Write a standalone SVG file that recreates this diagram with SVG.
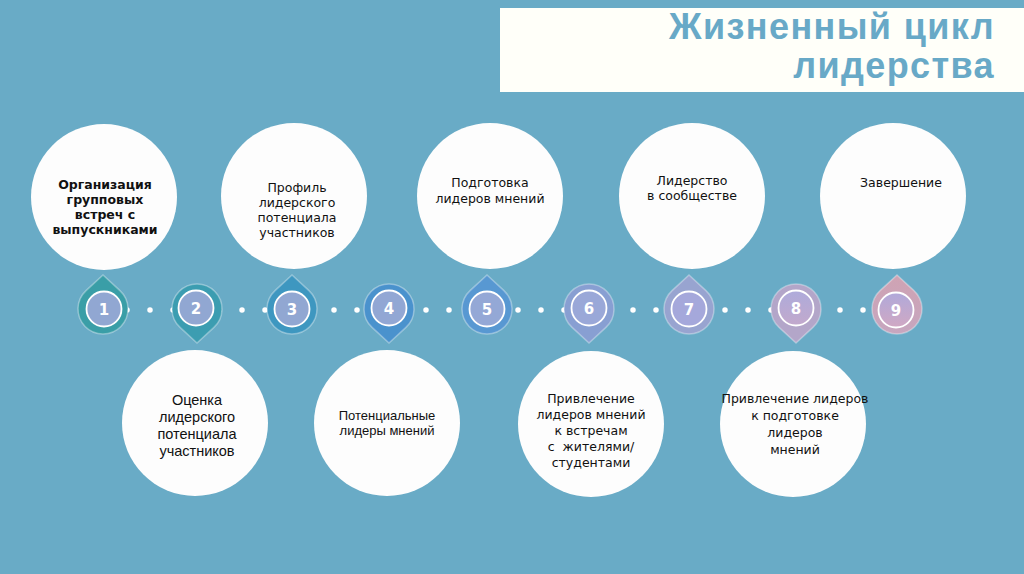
<svg xmlns="http://www.w3.org/2000/svg" width="1024" height="574" viewBox="0 0 1024 574">
<style>
.bg{fill:#69abc6}
.node{fill:#fdfdfd}
.title{font-family:"Liberation Sans",Arial,sans-serif;font-weight:bold;font-style:normal;font-size:36px;letter-spacing:1.4px;fill:#68a9c7;text-anchor:end}
.tv{font-family:"DejaVu Sans",Verdana,sans-serif;font-size:12.5px;fill:#111;text-anchor:middle}
.tb{font-weight:bold}
.ta{font-family:"Liberation Sans",Arial,sans-serif;fill:#111;text-anchor:middle}
.num{font-family:"DejaVu Sans",Verdana,sans-serif;font-weight:bold;font-size:15px;fill:#fff;text-anchor:middle}
.inner{stroke:#fff;stroke-width:1.8}
.drop{stroke:#ffffff;stroke-opacity:0.35;stroke-width:1.5}
.pre{white-space:pre}
</style>
<defs>
<path id="dropUp" d="M0,-34 L16.95,-18.4 A25,25 0 1,1 -16.95,-18.4 Z"/>
<linearGradient id="g8" x1="0" y1="0" x2="0" y2="1"><stop offset="0" stop-color="#aeabdb"/><stop offset="1" stop-color="#c2a9cc"/></linearGradient>
<linearGradient id="g9" x1="0" y1="0" x2="0" y2="1"><stop offset="0" stop-color="#b0a9da"/><stop offset="1" stop-color="#d0a8c3"/></linearGradient>
<linearGradient id="d9" x1="0" y1="0" x2="0" y2="1"><stop offset="0" stop-color="#cfa3b3"/><stop offset="1" stop-color="#c6a6bf"/></linearGradient>
</defs>
<rect class="bg" x="0" y="0" width="1024" height="574"/>
<g id="title">
<rect x="500" y="8" width="524" height="84" fill="#fffff9"/>
<text class="title" x="995" y="39">Жизненный цикл</text>
<text class="title" x="995" y="78">лидерства</text>
</g>
<g id="connectors">
<line x1="127" y1="310" x2="864" y2="310" stroke="#fff" stroke-width="5.5" stroke-linecap="round" stroke-dasharray="0 23"/>
</g>
<g id="node-t1"><circle class="node" cx="104" cy="197" r="73"/>
<text class="tv tb"><tspan x="105" y="189">Организация</tspan><tspan x="105" y="204">групповых</tspan><tspan x="105" y="219">встреч с</tspan><tspan x="105" y="234">выпускниками</tspan></text></g>
<g id="node-t2"><circle class="node" cx="294" cy="196" r="73"/>
<text class="tv"><tspan x="297" y="192">Профиль</tspan><tspan x="297" y="207">лидерского</tspan><tspan x="297" y="222">потенциала</tspan><tspan x="297" y="237">участников</tspan></text></g>
<g id="node-t3"><circle class="node" cx="490" cy="196" r="73"/>
<text class="tv"><tspan x="490" y="187">Подготовка</tspan><tspan x="490" y="203">лидеров мнений</tspan></text></g>
<g id="node-t4"><circle class="node" cx="692" cy="196" r="73"/>
<text class="tv"><tspan x="692" y="185">Лидерство</tspan><tspan x="692" y="200">в сообществе</tspan></text></g>
<g id="node-t5"><circle class="node" cx="893" cy="196" r="73"/>
<text class="tv"><tspan x="901" y="187">Завершение</tspan></text></g>
<g id="node-b1"><circle class="node" cx="195" cy="423" r="73"/>
<text class="ta" font-size="14.5"><tspan x="197" y="405">Оценка</tspan><tspan x="197" y="422">лидерского</tspan><tspan x="197" y="439">потенциала</tspan><tspan x="197" y="456">участников</tspan></text></g>
<g id="node-b2"><circle class="node" cx="387" cy="423" r="73"/>
<text class="ta" font-size="13"><tspan x="387" y="420">Потенциальные</tspan><tspan x="387" y="435">лидеры мнений</tspan></text></g>
<g id="node-b3"><circle class="node" cx="591" cy="424" r="73"/>
<text class="tv pre" font-size="13"><tspan x="591" y="403">Привлечение</tspan><tspan x="591" y="419">лидеров мнений</tspan><tspan x="591" y="435">к встречам</tspan><tspan x="591" y="451">с  жителями/</tspan><tspan x="591" y="467">студентами</tspan></text></g>
<g id="node-b4"><circle class="node" cx="793" cy="424" r="73"/>
<text class="tv" font-size="13"><tspan x="795" y="403">Привлечение лидеров</tspan><tspan x="795" y="420">к подготовке</tspan><tspan x="795" y="437">лидеров</tspan><tspan x="795" y="454">мнений</tspan></text></g>
<g id="marker-1"><use href="#dropUp" transform="translate(103,309)" fill="#3a9ea7" class="drop"/><circle class="inner" cx="104" cy="309" r="17.5" fill="#91a7d2"/><text class="num" x="104" y="315">1</text></g>
<g id="marker-2"><use href="#dropUp" transform="translate(197,309) rotate(180)" fill="#3c9db1" class="drop"/><circle class="inner" cx="196" cy="308" r="17.5" fill="#91a7d2"/><text class="num" x="196" y="314">2</text></g>
<g id="marker-3"><use href="#dropUp" transform="translate(292,309)" fill="#3e97c0" class="drop"/><circle class="inner" cx="292" cy="309" r="17.5" fill="#91a7d2"/><text class="num" x="292" y="315">3</text></g>
<g id="marker-4"><use href="#dropUp" transform="translate(389,309) rotate(180)" fill="#4a92cd" class="drop"/><circle class="inner" cx="389" cy="308" r="17.5" fill="#92a7d4"/><text class="num" x="389" y="314">4</text></g>
<g id="marker-5"><use href="#dropUp" transform="translate(487,309)" fill="#5898d2" class="drop"/><circle class="inner" cx="487" cy="309" r="17.5" fill="#94a8d6"/><text class="num" x="487" y="315">5</text></g>
<g id="marker-6"><use href="#dropUp" transform="translate(589,309) rotate(180)" fill="#889fd2" class="drop"/><circle class="inner" cx="589" cy="308" r="17.5" fill="#9aa8d8"/><text class="num" x="589" y="314">6</text></g>
<g id="marker-7"><use href="#dropUp" transform="translate(689,309)" fill="#98a4d0" class="drop"/><circle class="inner" cx="689" cy="309" r="17.5" fill="#a5a8db"/><text class="num" x="689" y="315">7</text></g>
<g id="marker-8"><use href="#dropUp" transform="translate(796,309) rotate(180)" fill="#b3a6c9" class="drop"/><circle class="inner" cx="796" cy="308" r="17.5" fill="url(#g8)"/><text class="num" x="796" y="314">8</text></g>
<g id="marker-9"><use href="#dropUp" transform="translate(897,309)" fill="url(#d9)" class="drop"/><circle class="inner" cx="896" cy="310" r="17.5" fill="url(#g9)"/><text class="num" x="896" y="316">9</text></g>
</svg>
